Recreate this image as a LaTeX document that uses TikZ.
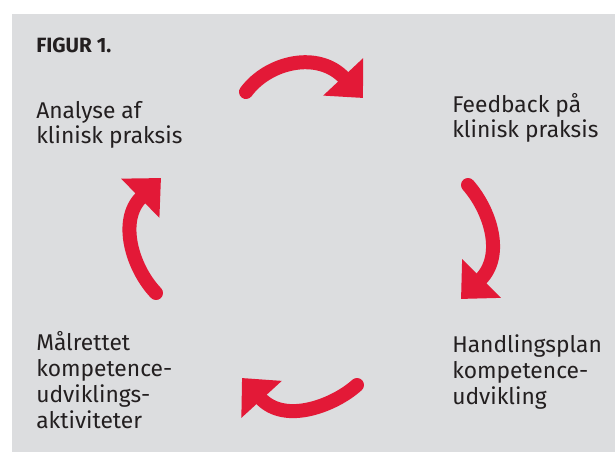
\documentclass[tikz,border=0pt]{standalone}
\usepackage{fontspec}
\setmainfont{Fira Sans}
\usetikzlibrary{arrows.meta}
\definecolor{figgray}{RGB}{220,221,223}
\definecolor{figred}{RGB}{227,25,55}
\definecolor{figtext}{RGB}{35,31,32}

\begin{document}
\begin{tikzpicture}[x=0.75pt,y=0.75pt,yscale=-1,xscale=1,
  steptext/.style={anchor=base west,inner sep=0pt,align=left,text=figtext,font=\fontsize{17.1}{19.5}\selectfont},
  cyclearrow/.style={draw=figred,line width=10.5pt,line cap=round,-{Triangle[length=21.75pt,width=39.75pt]}}]
\useasboundingbox (0,0) rectangle (615,453);
%Background
\fill[white] (0,0) rectangle (615,453);
\fill[figgray] (12,14) rectangle (615,452);
% Title
\node[steptext,font=\bfseries\fontsize{15.5}{18}\selectfont] (title) at (36,52.5) {FIGUR 1.};
% Text Node
\node[steptext] (analyse) at (36,144) {Analyse af\\klinisk praksis};
% Text Node
\node[steptext] (feedback) at (452,138) {Feedback på\\klinisk praksis};
% Text Node
\node[steptext] (plan) at (452,404) {Handlingsplan\\kompetence-\\udvikling};
% Text Node
\node[steptext] (aktiv) at (36,428) {Målrettet\\kompetence-\\udviklings-\\aktiviteter};
%Arrow ends
\coordinate (tail1) at (246,92);  \coordinate (tip1) at (363,98);
\coordinate (tail2) at (468,185); \coordinate (tip2) at (461,299);
\coordinate (tail3) at (357,385); \coordinate (tip3) at (242,378);
\coordinate (tail4) at (156,293); \coordinate (tip4) at (161,178);
%Curved Arrows
\draw[cyclearrow] (tail1) .. controls (268,62) and (318,50) .. (tip1);
\draw[cyclearrow] (tail2) .. controls (490,210) and (505,255) .. (tip2);
\draw[cyclearrow] (tail3) .. controls (335,405) and (285,425) .. (tip3);
\draw[cyclearrow] (tail4) .. controls (132,268) and (118,220) .. (tip4);
\end{tikzpicture}
\end{document}
